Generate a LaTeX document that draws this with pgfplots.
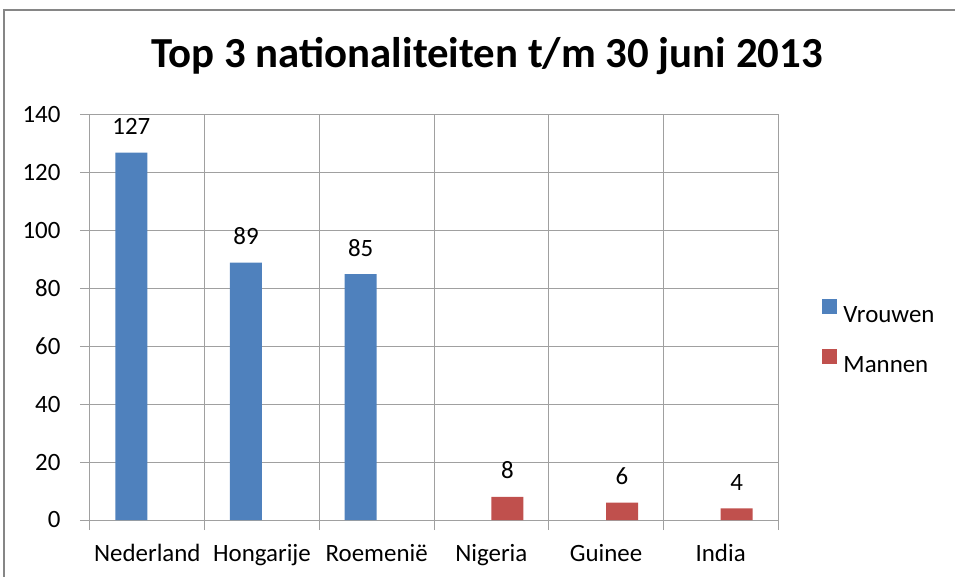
\documentclass[border=0pt]{standalone}
\usepackage{fontspec}
\setmainfont{Carlito}
\usepackage{pgfplots}
\pgfplotsset{compat=1.18}
\definecolor{vblue}{HTML}{4F81BD}
\definecolor{mred}{HTML}{C0504D}
\definecolor{gridgray}{HTML}{A0A0A0}
\definecolor{framegray}{HTML}{868686}
\begin{document}
\begin{tikzpicture}
\useasboundingbox (-90bp,-57bp) rectangle (865bp,520bp);
\draw[framegray, line width=2bp] (-86bp,-60bp) -- (-86bp,510bp) -- (870bp,510bp);
\node[font=\bfseries\fontsize{43}{50}\selectfont, anchor=base] at (397bp,452bp) {Top 3 nationaliteiten t/m 30 juni 2013};
\begin{axis}[
  scale only axis, width=688bp, height=405bp,
  xmin=-0.5, xmax=5.5, ymin=0, ymax=140,
  ybar=0pt, bar width=32bp,
  xtick={-0.5,0.5,...,5.5}, xticklabels={},
  extra x ticks={0,1,2,3,4,5},
  extra x tick labels={Nederland,Hongarije,Roemenië,Nigeria,Guinee,India},
  extra x tick style={grid=none, major tick length=0pt,
     tick label style={text height=17bp, text depth=5bp, yshift=-21bp}},
  ytick={0,20,...,140},
  yticklabel style={xshift=-16bp},
  grid=major, grid style={gridgray, line width=1bp},
  axis line style={gridgray, line width=1bp},
  tick style={gridgray, line width=1bp},
  tick align=outside, major tick length=10bp, tick pos=left,
  tick label style={font=\fontsize{25}{30}\selectfont},
  /pgf/number format/assume math mode=true,
  nodes near coords,
  every node near coord/.append style={font=\fontsize{25}{30}\selectfont, black, anchor=base, yshift=18bp},
  legend style={at={(1.060,0.453)}, anchor=west, draw=none, fill=none,
     font=\fontsize{25}{30}\selectfont, row sep=24bp,
     /tikz/every odd column/.append style={column sep=4bp},
     nodes={text height=16bp, text depth=0bp}},
  legend cell align=left,
]
\addplot[fill=vblue, draw=none,
  legend image code/.code={\fill[vblue] (0bp,1bp) rectangle (15bp,16bp);}]
  coordinates {(0,127) (1,89) (2,85)};
\addlegendentry{Vrouwen}
\addplot[fill=mred, draw=none,
  legend image code/.code={\fill[mred] (0bp,1bp) rectangle (15bp,16bp);}]
  coordinates {(3,8) (4,6) (5,4)};
\addlegendentry{Mannen}
\end{axis}
\end{tikzpicture}
\end{document}
